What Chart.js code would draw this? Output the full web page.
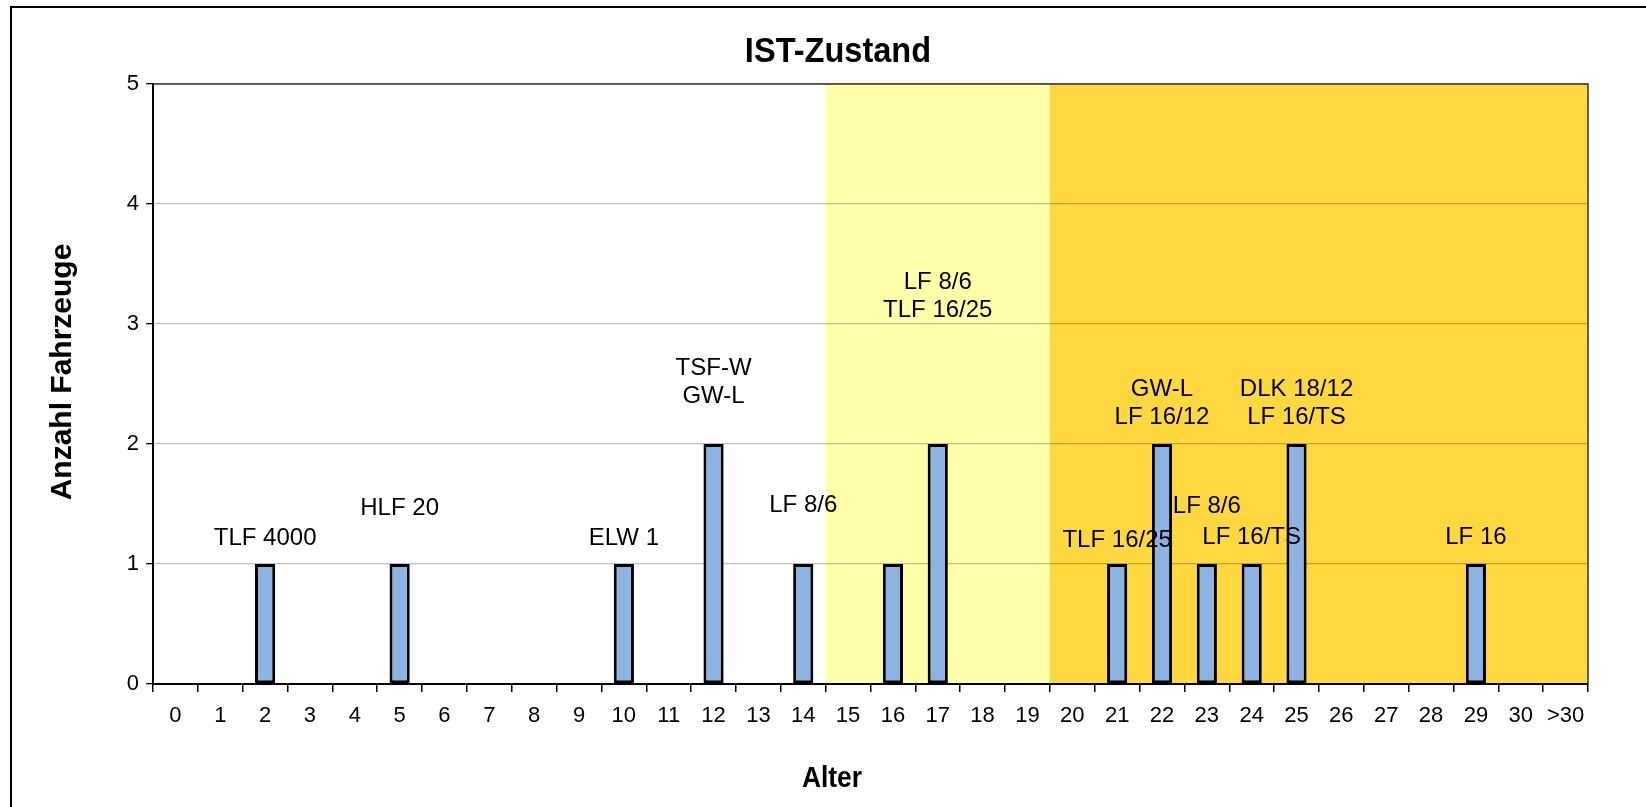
<!DOCTYPE html>
<html>
<head>
<meta charset="utf-8">
<script src="https://cdn.jsdelivr.net/npm/chart.js@4/dist/chart.umd.min.js"></script>
<style>
  html, body { margin: 0; padding: 0; background: #fff; }
  #wrap { width: 1646px; height: 807px; }
</style>
</head>
<body>
<div id="wrap"><canvas id="istChart" width="1646" height="807"></canvas></div>
<script>
const FONT = '"Liberation Sans", Arial, sans-serif';

// Alter der Fahrzeuge (Jahre) und Anzahl
const categories = ['0', '1', '2', '3', '4', '5', '6', '7', '8', '9', '10', '11', '12', '13', '14', '15',
  '16', '17', '18', '19', '20', '21', '22', '23', '24', '25', '26', '27', '28', '29', '30', '>30'];
const counts = [0, 0, 1, 0, 0, 1, 0, 0, 0, 0, 1, 0, 2, 0, 1, 0,
  1, 2, 0, 0, 0, 1, 2, 1, 1, 2, 0, 0, 0, 1, 0, 0];
const yTicks = [0, 1, 2, 3, 4, 5];

// Beschriftungen der Fahrzeuge (Kategorie, Zeilen, Höhe in Achsenwerten)
const labelCats = ['2', '5', '10', '12', '14', '17', '21', '22', '23', '24', '25', '29'];
const labelLines = [
  ['TLF 4000'], ['HLF 20'], ['ELW 1'], ['TSF-W', 'GW-L'], ['LF 8/6'], ['LF 8/6', 'TLF 16/25'],
  ['TLF 16/25'], ['GW-L', 'LF 16/12'], ['LF 8/6'], ['LF 16/TS'], ['DLK 18/12', 'LF 16/TS'], ['LF 16']
];
const labelLevel = [1.21, 1.46, 1.21, 2.51, 1.49, 3.23, 1.20, 2.34, 1.48, 1.22, 2.34, 1.22];

// Altersbereiche (Hintergrund)
const bandFrom = ['15', '20'];
const bandTo = ['19', '>30'];
const bandColors = ['#ffffaa', '#ffd83f'];

const chartTitle = 'IST-Zustand';
const xTitle = 'Alter';
const yTitle = 'Anzahl Fahrzeuge';

// Texte, die Excel auf die Diagrammfläche (nicht auf die Zeichnungsfläche) zentriert
function drawText(ctx, text, x, y, size, sx, rot) {
  ctx.save();
  ctx.translate(x, y);
  if (rot) ctx.rotate(rot);
  ctx.scale(sx, 1);
  ctx.font = 'bold ' + size + 'px ' + FONT;
  ctx.fillText(text, 0, 0);
  ctx.restore();
}

const bgPlugin = {
  id: 'bands',
  beforeDraw(chart) {
    const { ctx, chartArea: a, scales: { x } } = chart;
    ctx.save();
    ctx.fillStyle = '#fff';
    ctx.fillRect(0, 0, chart.width, chart.height);
    // outer frame
    ctx.strokeStyle = '#000';
    ctx.lineWidth = 2;
    ctx.beginPath();
    ctx.moveTo(11, chart.height + 2);
    ctx.lineTo(11, 7);
    ctx.lineTo(chart.width + 2, 7);
    ctx.stroke();
    const half = (a.right - a.left) / categories.length / 2;
    bandFrom.forEach((from, i) => {
      const l = x.getPixelForValue(categories.indexOf(from)) - half;
      const r = x.getPixelForValue(categories.indexOf(bandTo[i])) + half;
      ctx.fillStyle = bandColors[i];
      ctx.fillRect(l, a.top, r - l, a.bottom - a.top);
    });
    ctx.restore();
  },
  afterDatasetsDraw(chart) {
    const { ctx, chartArea: a, scales: { x, y } } = chart;
    ctx.save();
    ctx.strokeStyle = '#333';
    ctx.lineWidth = 1.5;
    ctx.beginPath();
    ctx.moveTo(a.left, a.top);
    ctx.lineTo(a.right, a.top);
    ctx.lineTo(a.right, a.bottom);
    ctx.stroke();
    ctx.fillStyle = '#000';
    ctx.font = '24px ' + FONT;
    ctx.textAlign = 'center';
    ctx.textBaseline = 'middle';
    const lh = 28;
    labelCats.forEach((c, i) => {
      const px = x.getPixelForValue(categories.indexOf(c));
      const py = y.getPixelForValue(labelLevel[i]);
      const lines = labelLines[i];
      const y0 = py - (lines.length - 1) * lh / 2;
      lines.forEach((t, k) => ctx.fillText(t, px, y0 + k * lh));
    });
    // titles
    drawText(ctx, chartTitle, 838, 52, 35, 0.93, 0);
    drawText(ctx, xTitle, 832, 779, 30, 0.88, 0);
    drawText(ctx, yTitle, 63, 372, 30, 1, -Math.PI / 2);
    ctx.restore();
  }
};

new Chart(document.getElementById('istChart'), {
  type: 'bar',
  data: {
    labels: categories,
    datasets: [{
      label: yTitle,
      data: counts,
      backgroundColor: '#8db3e2',
      borderColor: '#000',
      borderWidth: ctx => (ctx.raw ? 3 : 0),
      borderSkipped: false,
      barPercentage: 0.45,
      categoryPercentage: 1
    }]
  },
  options: {
    responsive: false,
    animation: false,
    events: [],
    layout: { padding: { left: 12, right: 58, top: 84, bottom: 0 } },
    plugins: {
      legend: { display: false },
      tooltip: { enabled: false },
      title: { display: false }
    },
    scales: {
      x: {
        offset: true,
        grid: { display: true, drawOnChartArea: false, offset: true, tickLength: 8, color: '#000', lineWidth: 1.5 },
        border: { color: '#000', width: 2 },
        ticks: { color: '#000', font: { family: FONT, size: 22 }, padding: 11, maxRotation: 0, autoSkip: false },
        title: { display: false, text: xTitle },
        afterFit: s => { s.height = 123; }
      },
      y: {
        min: 0,
        max: 5,
        afterBuildTicks: s => { s.ticks = yTicks.map(v => ({ value: v })); },
        grid: { color: 'rgba(0,0,0,0.25)', lineWidth: 1.3, tickColor: '#000', tickLength: 7 },
        border: { color: '#000', width: 2 },
        ticks: { color: '#000', font: { family: FONT, size: 22 }, padding: 7 },
        title: { display: false, text: yTitle },
        afterFit: s => { s.width = 141; }
      }
    }
  },
  plugins: [bgPlugin]
});
</script>
</body>
</html>
